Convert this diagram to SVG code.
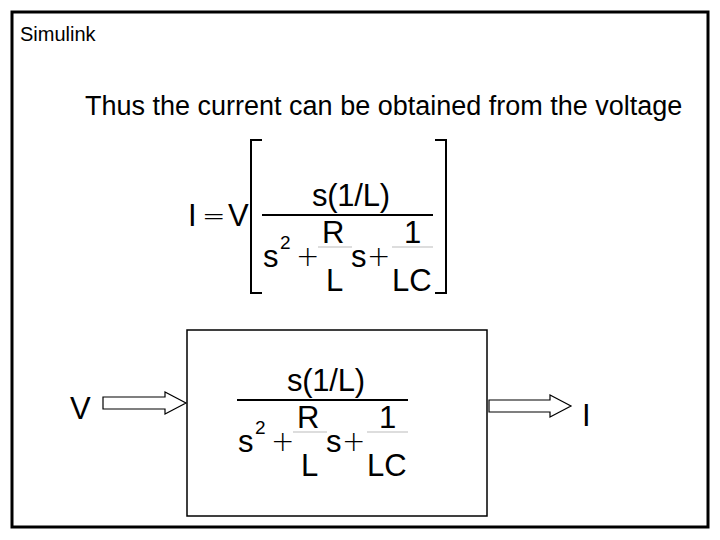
<svg xmlns="http://www.w3.org/2000/svg" width="720" height="540" viewBox="0 0 720 540">
<defs>
<style>
text{font-family:"Liberation Sans",Arial,sans-serif;fill:#000}
.m{font-size:31px}
.op{font-size:28px;font-family:"DejaVu Sans",sans-serif;font-weight:200}
.thin{stroke:#bbb;stroke-width:1}
</style>
<g id="frac">
<text class="m" x="351" y="206" text-anchor="middle" textLength="78">s(1/L)</text>
<line x1="262" y1="215" x2="433" y2="215" stroke="#000" stroke-width="2"/>
<text class="m" x="263" y="267">s</text>
<text x="280" y="249" font-size="19">2</text>
<text class="op" x="296" y="266">+</text>
<text class="m" x="322" y="243">R</text>
<line class="thin" x1="318" y1="247" x2="352" y2="247"/>
<text class="m" x="326" y="291">L</text>
<text class="m" x="351" y="267">s</text>
<text class="op" x="367" y="266">+</text>
<text class="m" x="404" y="243">1</text>
<line class="thin" x1="392" y1="247" x2="433" y2="247"/>
<text class="m" x="392" y="291">LC</text>
</g>
</defs>
<rect width="720" height="540" fill="#fff"/>
<rect x="12" y="12" width="696" height="515" fill="none" stroke="#000" stroke-width="3"/>
<text x="20" y="41" font-size="20">Simulink</text>
<text x="85" y="115" font-size="27">Thus the current can be obtained from the voltage</text>
<g id="equation">
<text class="m" x="188" y="226">I</text>
<text class="op" x="202" y="225">=</text>
<text class="m" x="228" y="226">V</text>
<path d="M262 140 H251 V293 H262" fill="none" stroke="#000" stroke-width="2"/>
<path d="M435 140 H446 V293 H435" fill="none" stroke="#000" stroke-width="2"/>
<use href="#frac"/>
</g>
<g id="block">
<rect x="187" y="330" width="300" height="186" fill="#fff" stroke="#000" stroke-width="1.5"/>
<use href="#frac" transform="translate(-25,185)"/>
</g>
<g id="labelV"><text class="m" x="70" y="419">V</text></g>
<g id="labelI"><text class="m" x="582" y="426">I</text></g>
<g id="connectors" fill="#fff" stroke="#000" stroke-width="1.2">
<path d="M103 397 H165 V392 L186 403 L165 414 V409 H103 Z"/>
<path d="M489 400 H550 V395 L571 406 L550 417 V412 H489 Z"/>
</g>
</svg>
